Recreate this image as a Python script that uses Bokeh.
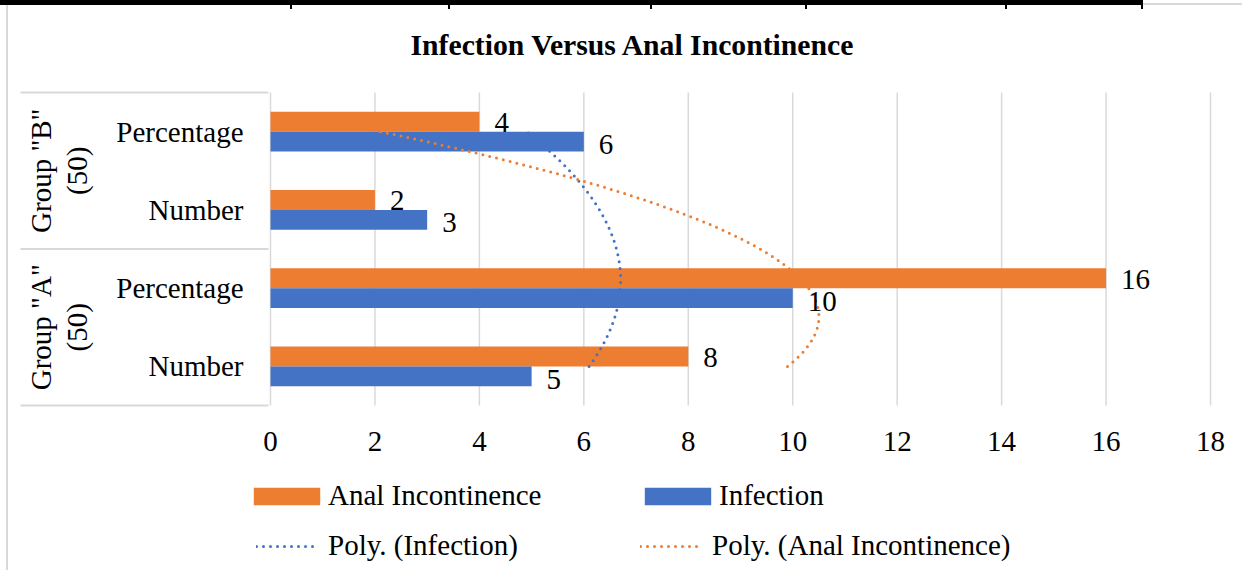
import numpy as np
from bokeh.plotting import figure
from bokeh.models import Legend, LegendItem, Range1d, Grid
from bokeh.embed import file_html
from bokeh.resources import INLINE
from bokeh.core.properties import value

# ---------------- data ----------------
title_text = "Infection Versus Anal Incontinence"
categories = ["Number", "Percentage", "Number", "Percentage"]   # bottom -> top
group_names = ['Group "A"', 'Group "B"']
group_counts = ["(50)", "(50)"]
infection = [5, 10, 3, 6]
anal_incontinence = [8, 16, 2, 4]
x_ticks = [0, 2, 4, 6, 8, 10, 12, 14, 16, 18]
series_names = ["Anal Incontinence", "Infection"]
trend_names = ["Poly. (Infection)", "Poly. (Anal Incontinence)"]

# ---------------- style ----------------
FONT = "Liberation Serif"
FS = "29px"
ORANGE = "#ED7D31"
BLUE = "#4472C4"
GRID = "#D9D9D9"

W, H = 1242, 570
# plot area: value 0..18 -> x 270..1210 px ; categories 0..4 -> y 405..92 px
PPU_X = 940.0 / 18.0
PPU_Y = 313.0 / 4.0


def dx(px):
    return (px - 270) / PPU_X


def dy(py):
    return (405 - py) / PPU_Y


p = figure(width=W, height=H, output_backend="svg", toolbar_location=None,
           x_range=Range1d(dx(0), dx(W)), y_range=Range1d(dy(H), dy(0)),
           x_axis_location=None, y_axis_location=None,
           min_border=0, min_border_left=0, min_border_right=0,
           min_border_top=0, min_border_bottom=0)
p.center = [r for r in p.center if not isinstance(r, Grid)]
p.title.text = ""
p.title.visible = False
p.outline_line_color = None
p.background_fill_color = None
p.border_fill_color = None
p.styles = {
    "background": ("linear-gradient(#000,#000) 0px 0px / 1143px 5px no-repeat, "
                   "linear-gradient(#000,#000) 290px 0px / 2px 9px no-repeat, "
                   "linear-gradient(#000,#000) 448px 0px / 2px 9px no-repeat, "
                   "linear-gradient(#000,#000) 650px 0px / 2px 9px no-repeat, "
                   "linear-gradient(#000,#000) 805px 0px / 2px 9px no-repeat, "
                   "linear-gradient(#000,#000) 1005px 0px / 2px 9px no-repeat, "
                   "linear-gradient(#000,#000) 1141px 0px / 2px 9px no-repeat, "
                   "linear-gradient(#D9D9D9,#D9D9D9) 1143px 3px / 200px 2px no-repeat, "
                   "linear-gradient(#D9D9D9,#D9D9D9) 6px 5px / 2px 100% no-repeat, "
                   "white"),
}

# vertical gridlines at the value ticks
p.segment(x0=x_ticks, x1=x_ticks, y0=[0] * len(x_ticks), y1=[4] * len(x_ticks),
          line_color=GRID, line_width=1.5)

# tick labels of the value axis
txt = dict(text_font=value(FONT), text_font_size=FS, text_color="black")
p.text(x=x_ticks, y=[0] * len(x_ticks), text=[str(v) for v in x_ticks],
       y_offset=36, text_align="center", text_baseline="middle", **txt)

# title
p.text(x=[dx(410)], y=[dy(44)], text=[title_text], text_align="left",
       text_baseline="middle", text_font_style="bold",
       text_font=value(FONT), text_font_size="29.7px", text_color="black")

centers = np.arange(len(categories)) + 0.5
BAR_H = 0.2555

r_orange = p.hbar(y=centers + BAR_H / 2, left=0, right=anal_incontinence,
                  height=BAR_H, fill_color=ORANGE, line_color=None)
r_blue = p.hbar(y=centers - BAR_H / 2, left=0, right=infection,
                height=BAR_H, fill_color=BLUE, line_color=None)

# polynomial (order 2) trendlines, Excel-style: x = category index 1..4
idx = np.arange(1, len(categories) + 1)
t = np.linspace(1, len(categories), 200)
fit_inf = np.polyval(np.polyfit(idx, infection, 2), t)
fit_ai = np.polyval(np.polyfit(idx, anal_incontinence, 2), t)
r_tb = p.line(fit_inf, t - 0.5, line_color=BLUE, line_width=3,
              line_dash="0 7", line_cap="round")
r_to = p.line(fit_ai, t - 0.5, line_color=ORANGE, line_width=3,
              line_dash="0 7", line_cap="round")

# data labels
p.text(x=anal_incontinence, y=centers + BAR_H / 2,
       text=[str(v) for v in anal_incontinence], x_offset=15, y_offset=1,
       text_align="left", text_baseline="middle", **txt)
p.text(x=infection, y=centers - BAR_H / 2,
       text=[str(v) for v in infection], x_offset=15, y_offset=3,
       text_align="left", text_baseline="middle", **txt)

# category (inner) labels
p.text(x=[dx(243)] * len(categories), y=centers, text=categories,
       text_align="right", text_baseline="middle", **txt)

# group (outer) labels, rotated
gcent = [1.0, 3.0]
p.text(x=[dx(40)] * 2, y=gcent, text=group_names, angle=np.pi / 2,
       text_align="center", text_baseline="middle", **txt)
p.text(x=[dx(76)] * 2, y=gcent, text=group_counts, angle=np.pi / 2,
       text_align="center", text_baseline="middle", **txt)

# separators of the category table
p.segment(x0=[dx(20)] * 3, x1=[dx(268)] * 3, y0=[0, 2, 4], y1=[0, 2, 4],
          line_color=GRID, line_width=2)

common = dict(orientation="horizontal", label_text_font=FONT,
              label_text_font_size=FS, label_text_color="black",
              spacing=0, padding=0, margin=0,
              border_line_color=None, background_fill_alpha=0)
leg1 = Legend(items=[LegendItem(label=series_names[0], renderers=[r_orange]),
                     LegendItem(label=series_names[1], renderers=[r_blue])],
              location=(245, 58), glyph_width=83, glyph_height=22,
              label_standoff=0, label_width=308, **common)
leg2 = Legend(items=[LegendItem(label=trend_names[0], renderers=[r_tb]),
                     LegendItem(label=trend_names[1], renderers=[r_to])],
              location=(256, 8), glyph_width=63, glyph_height=18,
              label_standoff=9, label_width=312, **common)
p.add_layout(leg1)
p.add_layout(leg2)

open("out.html", "w").write(file_html(p, INLINE))
